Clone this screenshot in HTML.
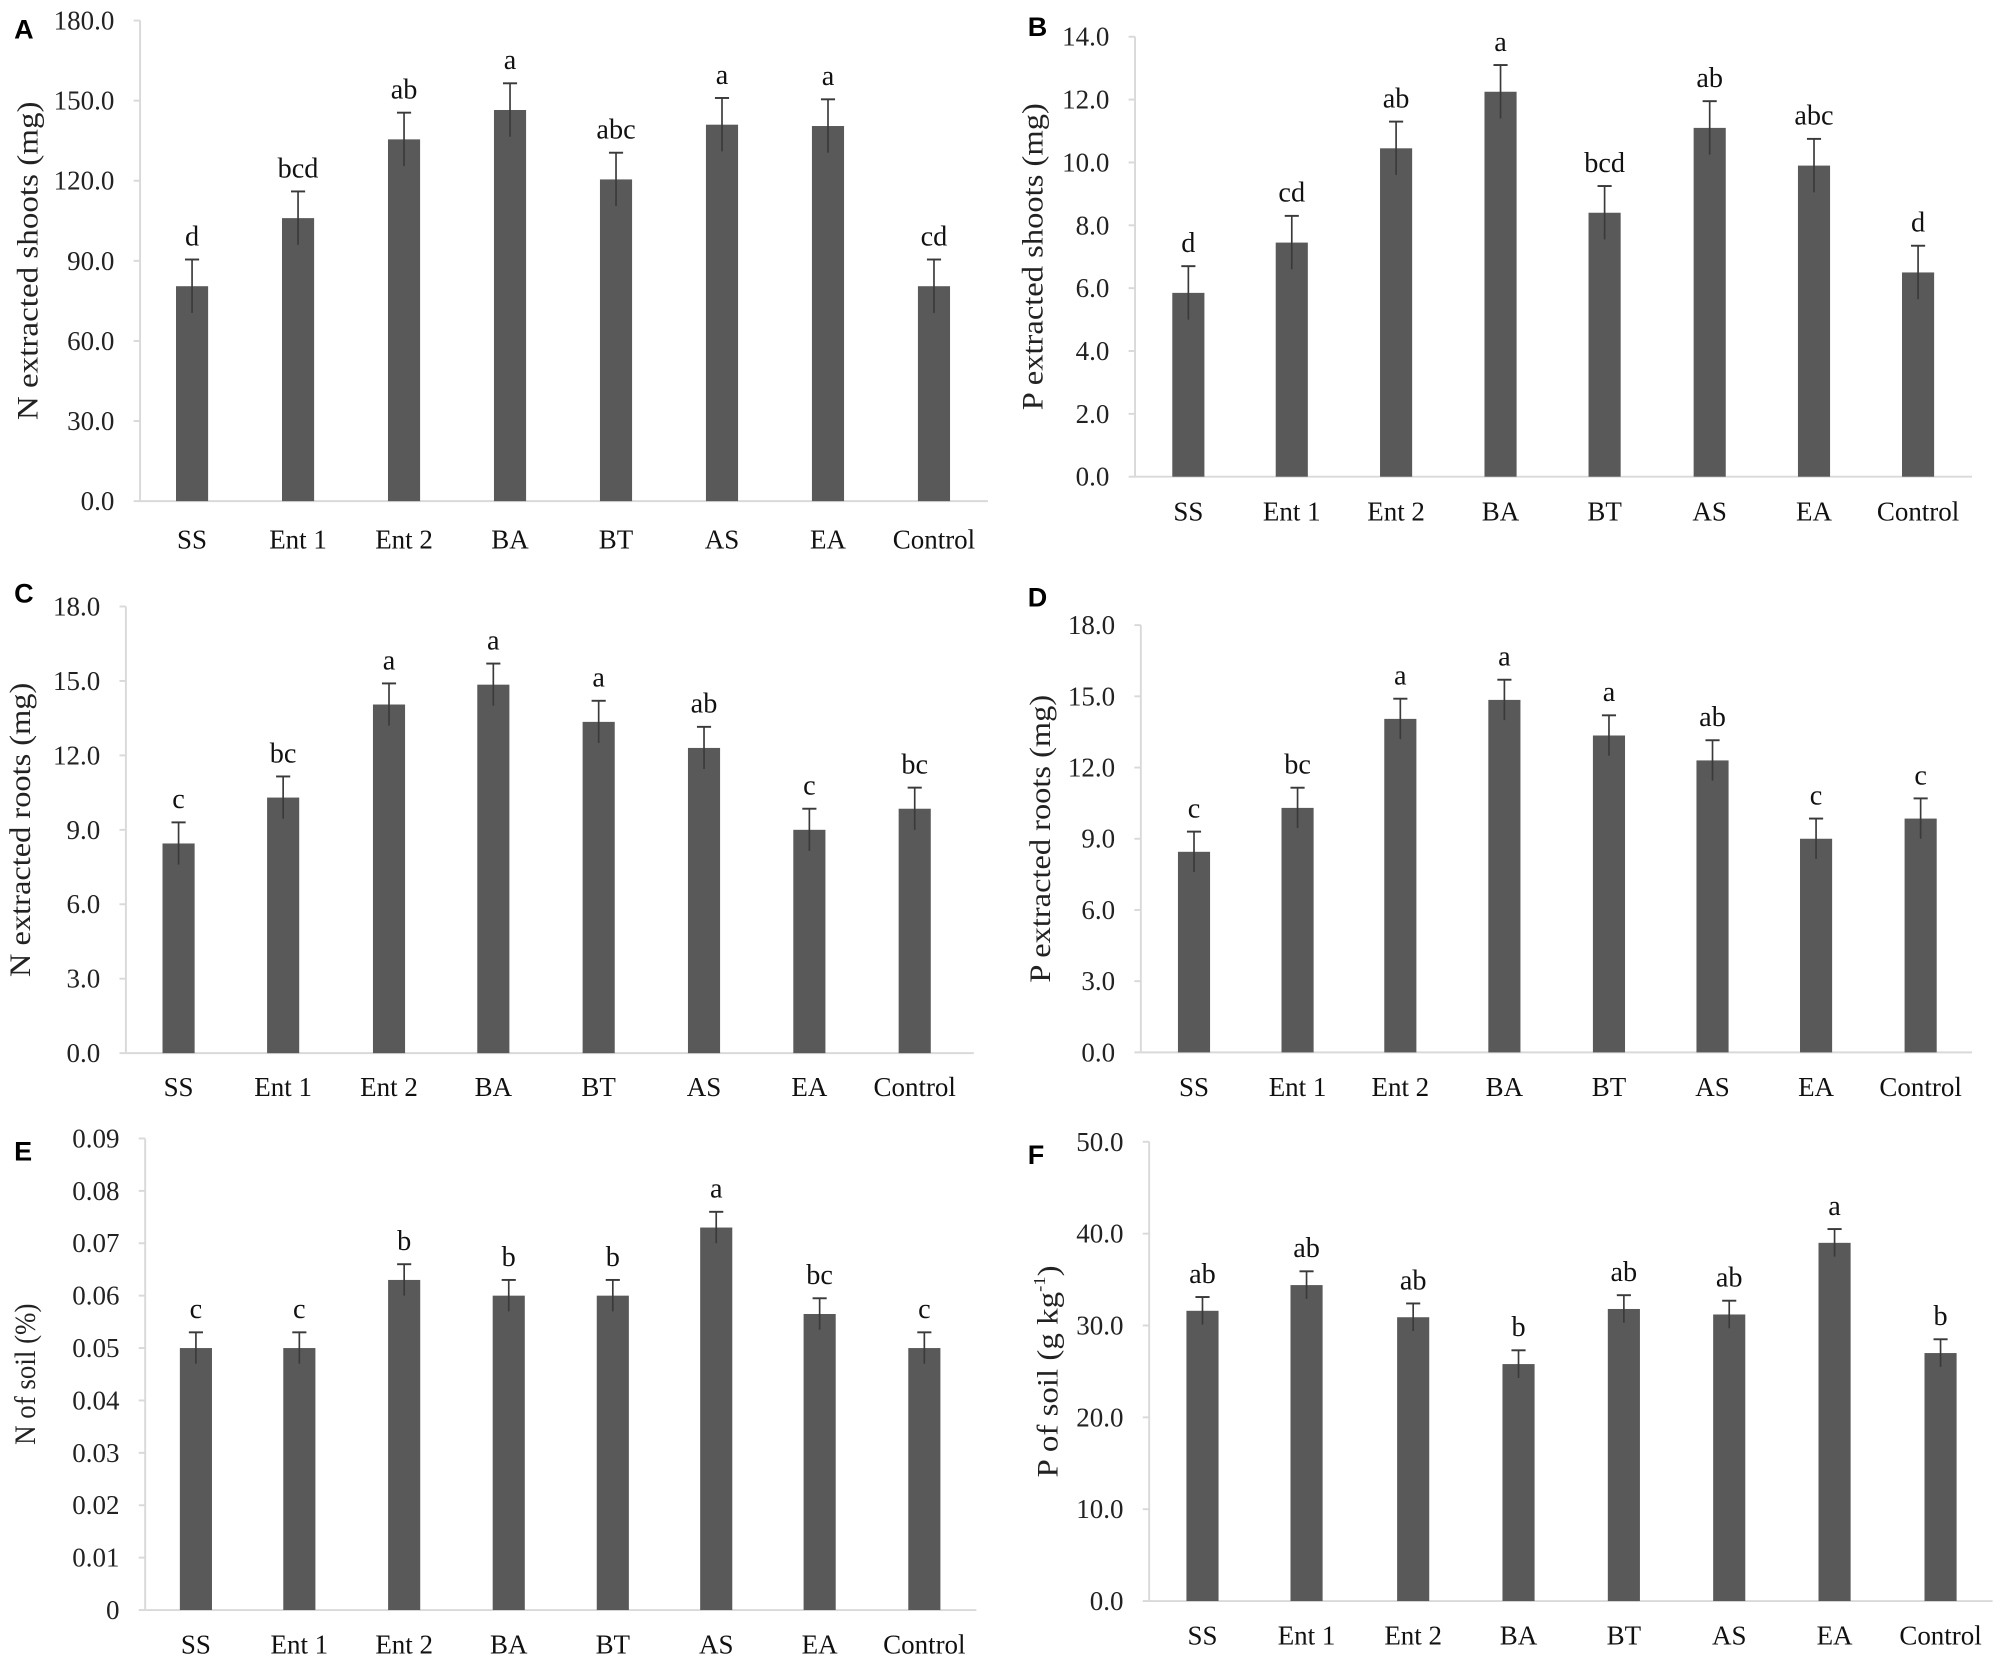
<!DOCTYPE html>
<html><head><meta charset="utf-8"><style>html,body{margin:0;padding:0;background:#fff}svg{display:block}</style></head>
<body>
<svg id="s" width="2008" height="1673" viewBox="0 0 1563 1302" preserveAspectRatio="none" xmlns="http://www.w3.org/2000/svg"></svg>
<script>
const NS="http://www.w3.org/2000/svg",s=document.getElementById('s');
function el(t,a,txt){const e=document.createElementNS(NS,t);for(const k in a)e.setAttribute(k,a[k]);if(txt!==undefined)e.textContent=txt;s.appendChild(e);return e;}
const cats=["SS","Ent 1","Ent 2","BA","BT","AS","EA","Control"];
const P=[
{L:"A",lx:11,ly:30,ax:109,top:16,zero:390,xr:769,max:180,step:30,dec:1,cx:[149.5,232,314.5,397,479.5,562,644.5,727],lab:427,yt:"N extracted shoots (mg)",tl:248,ytx:24,
 v:[80.5,106,135.5,146.5,120.5,141,140.5,80.5],e:10,l:["d","bcd","ab","a","abc","a","a","cd"]},
{L:"B",lx:800,ly:28,ax:883.5,top:28.6,zero:371,xr:1535,max:14,step:2,dec:1,cx:[925,1005.5,1086.7,1168,1249,1330.8,1412,1493],lab:405,yt:"P extracted shoots (mg)",tl:239,ytx:806,
 v:[5.85,7.45,10.45,12.25,8.4,11.1,9.9,6.5],e:0.85,l:["d","cd","ab","a","bcd","ab","abc","d"]},
{L:"C",lx:11,ly:469,ax:98,top:472,zero:819.6,xr:758,max:18,step:3,dec:1,cx:[139,220.4,302.8,384,466,548,630,712],lab:853,yt:"N extracted roots (mg)",tl:229,ytx:18,
 v:[8.45,10.3,14.05,14.85,13.35,12.3,9.0,9.85],e:0.85,l:["c","bc","a","a","a","ab","c","bc"]},
{L:"D",lx:800,ly:472,ax:888,top:486.5,zero:819,xr:1535,max:18,step:3,dec:1,cx:[929.4,1010,1090,1171,1252.4,1333,1413.6,1495],lab:853,yt:"P extracted roots (mg)",tl:224,ytx:812,
 v:[8.45,10.3,14.05,14.85,13.35,12.3,9.0,9.85],e:0.85,l:["c","bc","a","a","a","ab","c","c"]},
{L:"E",lx:11,ly:903,ax:113,top:886,zero:1253,xr:760,max:0.09,step:0.01,dec:2,cx:[152.5,233,314.6,396,477,557.5,638,719.5],lab:1287,yt:"N of soil (%)",tl:110,ytx:22,
 v:[0.05,0.05,0.063,0.06,0.06,0.073,0.0565,0.05],e:0.003,l:["c","c","b","b","b","a","bc","c"]},
{L:"F",lx:800,ly:906,ax:894.5,top:888.6,zero:1246,xr:1551,max:50,step:10,dec:1,cx:[936,1017,1100,1182,1264,1346,1428,1510.5],lab:1280,yt:"P of soil (g kg-1)",tl:165,ytx:818,
 v:[31.6,34.4,30.9,25.8,31.8,31.2,39,27],e:1.5,l:["ab","ab","ab","b","ab","ab","a","b"]}
];
const F='"Liberation Serif", serif';
P.forEach(p=>{
 const y=v=>p.zero-(v/p.max)*(p.zero-p.top);
 el('text',{x:p.lx,y:p.ly,'font-family':'"Liberation Sans", sans-serif','font-weight':'bold','font-size':21},p.L);
 el('line',{x1:p.ax,y1:p.top,x2:p.ax,y2:p.zero,stroke:'#d9d9d9','stroke-width':1.5});
 el('line',{x1:p.ax,y1:p.zero,x2:p.xr,y2:p.zero,stroke:'#d9d9d9','stroke-width':1.5});
 const n=Math.round(p.max/p.step);
 for(let i=0;i<=n;i++){const v=i*p.step,yy=y(v);
  el('line',{x1:p.ax-5,y1:yy,x2:p.ax,y2:yy,stroke:'#d9d9d9','stroke-width':1.5});
  let t=(p.L=="E"&&i==0)?"0":v.toFixed(p.dec);
  el('text',{x:p.ax-20,y:yy+7,'text-anchor':'end','font-family':F,'font-size':21,fill:'#222'},t);}
 const my=(p.top+p.zero)/2;
 const yt=el('text',{x:p.ytx,y:my,'text-anchor':'middle','font-family':F,'font-size':23,fill:'#222',transform:`rotate(-90 ${p.ytx} ${my})`,'dominant-baseline':'middle',textLength:p.tl,lengthAdjust:'spacingAndGlyphs'});
 if(p.L=="F"){yt.textContent="P of soil (g kg";const ts=document.createElementNS(NS,'tspan');ts.setAttribute('baseline-shift','super');ts.setAttribute('font-size',13);ts.textContent="-1";yt.appendChild(ts);const t2=document.createElementNS(NS,'tspan');t2.textContent=")";yt.appendChild(t2);}
 else yt.textContent=p.yt;
 p.cx.forEach((cx,i)=>{
  const v=p.v[i],bw=25;
  el('rect',{x:cx-bw/2,y:y(v),width:bw,height:p.zero-y(v),fill:'#595959'});
  const et=y(v+p.e),eb=y(v-p.e);
  el('line',{x1:cx,y1:et,x2:cx,y2:eb,stroke:'#3a3a3a','stroke-width':1.3});
  el('line',{x1:cx-5.5,y1:et,x2:cx+5.5,y2:et,stroke:'#3a3a3a','stroke-width':1.5});
  el('text',{x:cx,y:et-11,'text-anchor':'middle','font-family':F,'font-size':22,fill:'#111'},p.l[i]);
  el('text',{x:cx,y:p.lab,'text-anchor':'middle','font-family':F,'font-size':21,fill:'#111'},cats[i]);
 });
});
</script>
</body></html>
